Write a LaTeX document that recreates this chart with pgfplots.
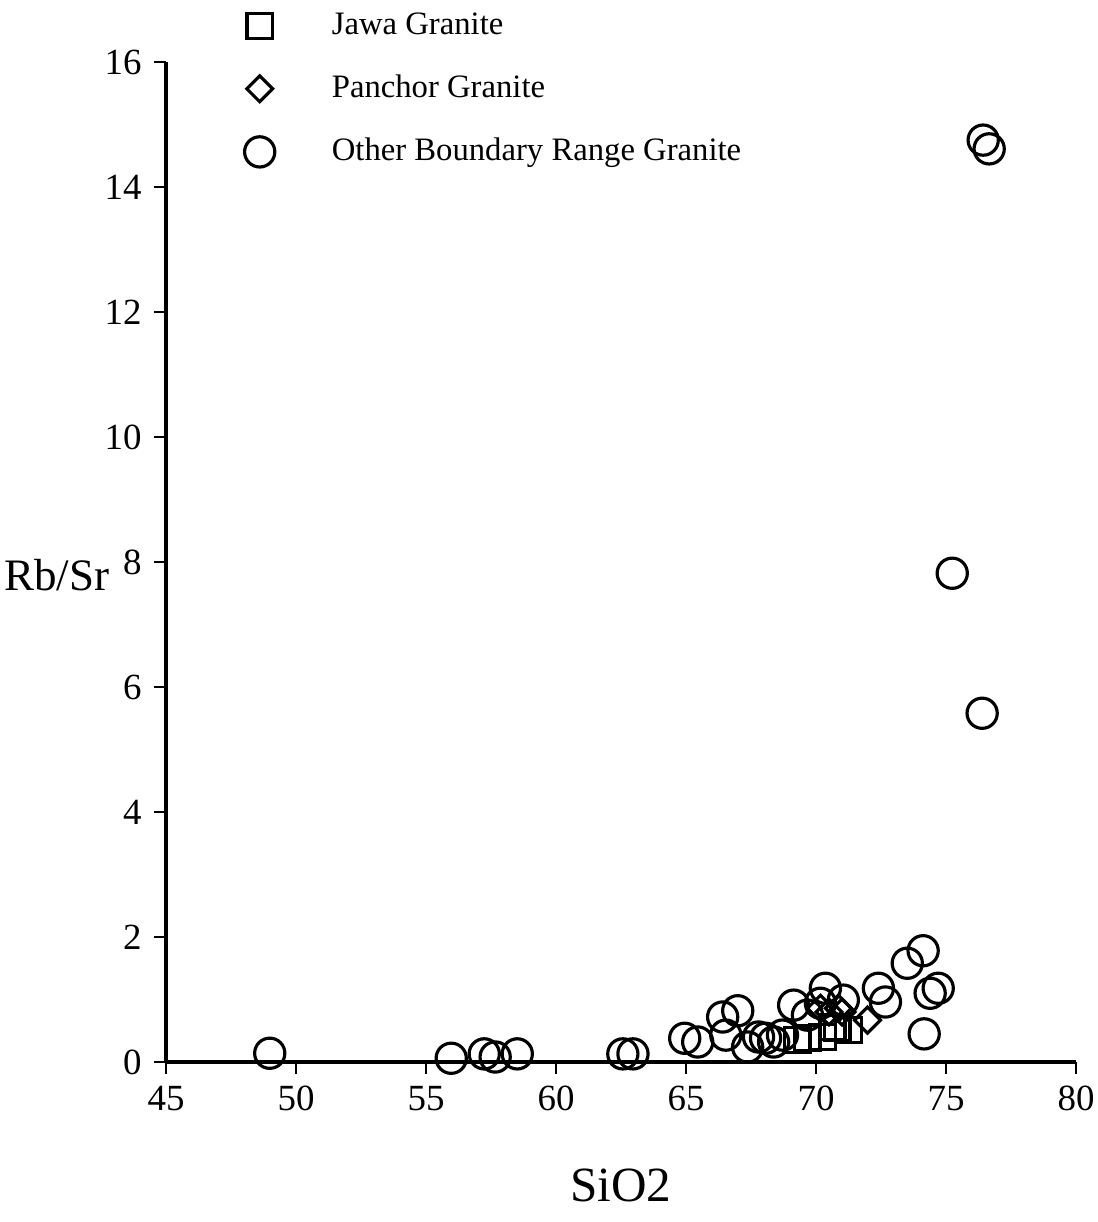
\documentclass[border=0pt]{standalone}
\usepackage{fontspec}
\setmainfont{Liberation Serif}
\usepackage{pgfplots}
\pgfplotsset{compat=1.18}
\begin{document}
\begin{tikzpicture}
\path[use as bounding box] (-1.66,-1.60) rectangle (9.31,10.62);
\begin{axis}[
  scale only axis, width=9.1cm, height=10cm,
  at={(0,0)}, anchor=south west,
  xmin=45, xmax=80, ymin=0, ymax=16,
  axis lines=left, axis line style={-, line width=1pt},
  tick align=outside, major tick length=3.4pt, tick style={line width=0.8pt, black},
  xtick={45,50,...,80}, ytick={0,2,...,16},
  /pgf/number format/assume math mode=true,
  tick label style={font=\fontsize{10.5}{12}\selectfont},
  xlabel={SiO2}, ylabel={Rb/Sr},
  x label style={font=\fontsize{14}{16}\selectfont, at={(rel axis cs:0.5,-0.123)}, anchor=center},
  y label style={font=\fontsize{12.8}{15}\selectfont, at={(rel axis cs:-0.120,0.487)}, anchor=center, rotate=-90},
  clip=false,
  reverse legend,
  legend style={draw=none, at={(rel axis cs:0.074,1.064)}, anchor=north west,
    font=\fontsize{9.3}{11}\selectfont, row sep=6pt, legend cell align=left},
  legend image code/.code={\draw[#1] (0.3cm,0cm) -- plot coordinates {(0.3cm,0cm)};},
]
\addplot[only marks, mark=o, mark size=4.3pt, line width=0.9pt, mark options={fill=white}] coordinates {
(48.99,0.14) (55.97,0.06) (57.24,0.13) (57.66,0.08) (58.51,0.13)
(62.57,0.13) (62.96,0.13) (64.95,0.38) (65.45,0.32) (66.41,0.72)
(66.99,0.82) (66.53,0.43) (67.37,0.24) (67.79,0.40) (68.06,0.38)
(68.37,0.32) (68.71,0.43) (69.14,0.91) (69.67,0.75) (70.36,1.18)
(70.17,0.94) (71.05,0.99) (72.40,1.18) (72.67,0.96) (73.51,1.58)
(74.12,1.78) (74.39,1.10) (74.70,1.18) (74.16,0.45)
(75.24,7.82) (76.39,5.58) (76.43,14.75) (76.66,14.61)
};
\addlegendentry{\hspace{0.5cm}Other Boundary Range Granite}
\addplot[only marks, mark=square, mark size=2.6pt, line width=0.9pt, mark options={fill=white, rotate=45}] coordinates {
(70.17,0.86) (70.50,0.80) (70.86,0.86) (71.00,0.80) (71.98,0.67)
};
\addlegendentry{\hspace{0.5cm}Panchor Granite}
\addplot[only marks, mark=square, mark size=3.6pt, line width=0.9pt, mark options={fill=white}] coordinates {
(69.29,0.35) (69.67,0.38) (70.25,0.40) (70.63,0.56) (70.82,0.54) (71.25,0.51)
};
\addlegendentry{\hspace{0.5cm}Jawa Granite}
\end{axis}
\end{tikzpicture}
\end{document}
